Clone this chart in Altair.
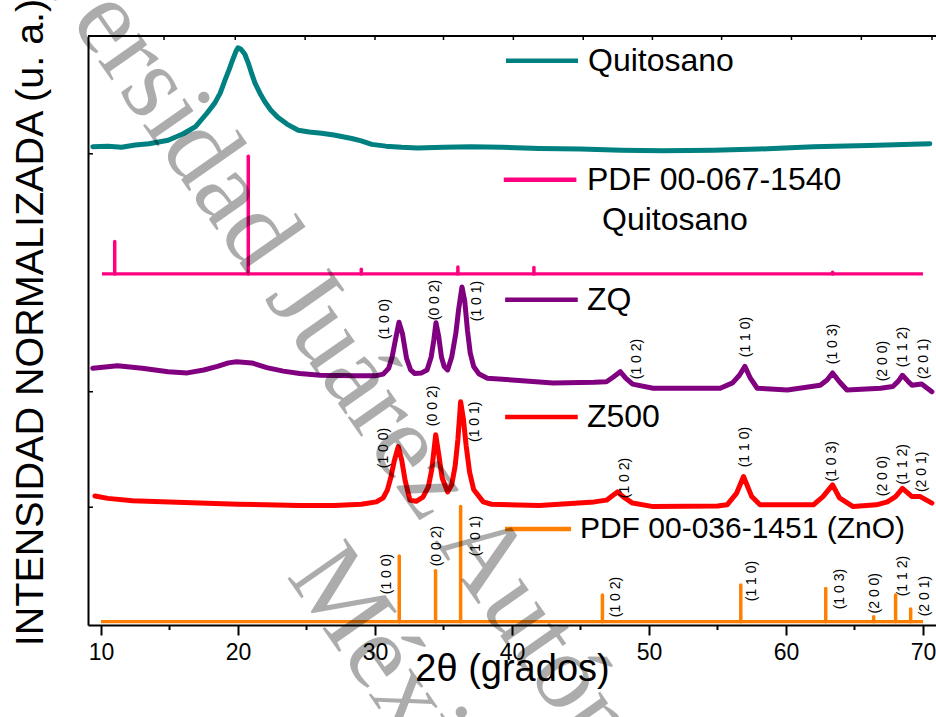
import altair as alt
import pandas as pd

# ---------------- data ----------------
SERIES = ["Quitosano", "PDF 00-067-1540", "ZQ", "Z500", "PDF 00-036-1451 (ZnO)"]
COLORS = ["#008080", "#FF0080", "#800080", "#FF0000", "#FF8000"]

QT_X = [9.4, 10.5, 11.5, 12.5, 13.5, 14.9, 16.0, 16.9, 17.7, 18.3, 18.7, 19.05, 19.35, 19.6, 19.85, 20.0,
        20.2, 20.5, 20.75, 21.0, 21.24, 21.6, 21.97, 22.4, 22.9, 23.6, 24.4, 25.2, 26.1, 27.0, 28.3, 29.0,
        29.76, 30.8, 31.95, 33.1, 35.0, 37.0, 39.3, 42.0, 45.0, 48.0, 51.0, 54.7, 58.0, 62.0, 66.0, 70.5]
QT_Y = [81.2, 81.3, 81.1, 81.5, 81.7, 82.3, 83.4, 84.6, 86.8, 88.6, 90.3, 92.5, 94.3, 95.9, 97.4, 98.0,
        97.8, 96.9, 95.4, 93.6, 92.0, 90.3, 88.8, 87.4, 86.2, 85.0, 84.0, 83.7, 83.5, 83.2, 82.6, 82.2,
        81.6, 81.3, 81.1, 81.0, 81.1, 81.2, 81.1, 80.9, 80.8, 80.6, 80.5, 80.6, 80.8, 81.2, 81.4, 81.7]

ZQ_X = [9.4, 11.2, 13.0, 14.9, 16.3, 17.5, 18.5, 19.3, 19.9, 21.0, 22.1, 23.3, 24.5, 26.0, 28.5, 30.0,
        30.6, 31.0, 31.25, 31.5, 31.75, 32.0, 32.3, 32.6, 32.9, 33.4, 33.8, 34.1, 34.3, 34.45, 34.65, 34.85,
        35.05, 35.3, 35.6, 35.9, 36.1, 36.35, 36.55, 36.75, 36.95, 37.2, 37.6, 38.2, 40.0, 43.0, 46.0, 46.9,
        47.4, 47.9, 48.3, 48.8, 50.3, 53.0, 55.2, 56.1, 56.6, 57.0, 57.4, 57.9, 60.1, 62.5, 63.0, 63.4,
        63.9, 64.45, 66.9, 67.8, 68.2, 68.5, 68.9, 69.2, 69.9, 70.65]
ZQ_Y = [43.6, 44.0, 43.6, 43.0, 42.8, 43.3, 43.9, 44.5, 44.7, 44.5, 43.7, 43.1, 42.7, 42.4, 42.3, 42.3,
        42.6, 43.6, 45.5, 48.5, 51.4, 49.5, 45.3, 43.3, 42.7, 42.8, 43.3, 45.5, 48.5, 51.3, 49.0, 45.5,
        43.9, 43.3, 45.5, 49.5, 53.5, 57.4, 55.0, 50.0, 46.2, 43.9, 42.6, 41.9, 41.6, 41.1, 41.2, 41.3,
        42.1, 43.0, 41.9, 40.9, 40.2, 40.2, 40.2, 41.1, 42.4, 43.9, 41.9, 40.2, 39.9, 40.7, 41.6, 42.8,
        41.3, 39.9, 40.2, 40.5, 41.4, 42.4, 41.4, 40.7, 40.9, 39.6]

Z5_X = [9.56, 10.5, 12.3, 15.0, 17.2, 20.0, 24.5, 27.0, 29.0, 30.1, 30.6, 30.9, 31.15, 31.4, 31.7, 31.95,
        32.2, 32.55, 33.0, 33.5, 33.9, 34.15, 34.43, 34.65, 34.9, 35.3, 35.6, 35.85, 36.05, 36.25, 36.45,
        36.65, 36.9, 37.2, 37.9, 38.5, 42.0, 46.0, 46.9, 47.3, 47.7, 48.1, 48.8, 50.3, 55.0, 55.7, 56.4,
        56.9, 57.5, 58.1, 62.0, 62.7, 63.4, 63.9, 64.9, 66.6, 67.4, 68.0, 68.5, 69.2, 69.8, 70.65]
Z5_Y = [21.9, 21.5, 21.1, 20.9, 20.7, 20.5, 20.3, 20.3, 20.5, 20.9, 21.6, 22.9, 25.0, 27.8, 30.3, 28.0,
        24.5, 21.2, 21.0, 21.7, 23.5, 26.5, 32.3, 29.0, 25.0, 22.6, 23.8, 27.0, 31.5, 37.9, 35.0,
        30.5, 26.0, 23.0, 20.9, 20.5, 20.3, 20.9, 21.2, 21.9, 22.6, 21.8, 20.7, 20.1, 20.2, 20.4, 22.4,
        25.2, 21.8, 20.4, 20.4, 21.8, 23.8, 21.6, 20.1, 20.4, 20.9, 21.8, 23.2, 21.8, 21.8, 20.7]

# reference patterns (stick positions and heights)
PDFQ_X = [11.0, 20.75, 29.0, 36.05, 41.6, 63.4]
PDFQ_TOP = [65.1, 79.6, 60.4, 60.8, 60.7, 59.9]
PDFQ_BASE = 59.6
PDFQ_RANGE = [10.07, 70.0]

ZNO_X = [31.77, 34.42, 36.25, 46.6, 56.7, 62.9, 66.4, 68.0, 69.1]
ZNO_TOP = [11.7, 9.2, 20.1, 5.1, 6.8, 6.2, 1.4, 5.1, 2.7]
ZNO_BASE = 0.56
ZNO_RANGE = [10.0, 70.0]

HKL = ["(1 0 0)", "(0 0 2)", "(1 0 1)", "(1 0 2)", "(1 1 0)", "(1 0 3)", "(2 0 0)", "(1 1 2)", "(2 0 1)"]
ZQ_LAB_X = [30.73, 34.38, 37.45, 49.16, 57.08, 63.43, 67.08, 68.54, 70.07]
ZQ_LAB_Y = [51.95, 55.18, 55.0, 45.16, 48.9, 47.7, 44.8, 47.2, 45.2]
Z5_LAB_X = [30.66, 34.23, 37.3, 48.25, 57.0, 63.36, 67.08, 68.54, 69.93]
Z5_LAB_Y = [30.05, 37.2, 34.5, 24.96, 30.2, 27.8, 25.3, 27.3, 26.0]
ZNO_LAB_X = [30.88, 34.53, 37.37, 47.6, 57.5, 63.94, 66.5, 68.54, 70.15]
ZNO_LAB_Y = [8.66, 13.4, 15.1, 4.75, 7.47, 6.1, 5.4, 8.3, 4.9]

# legend (in data units)
LEG_Y = [95.8, 75.6, 55.2, 35.3, 16.3]
LEG_X1 = [39.56, 39.4, 39.5, 39.5, 39.49]
LEG_X2 = [44.82, 44.7, 44.8, 44.8, 44.31]
LEG_TX = [45.55, 45.47, 45.47, 45.47, 44.96]
LEG_SIZE = [32, 32, 32, 32, 30]
LEG_EXTRA = ["Quitosano"]
LEG_EXTRA_X = [46.57]
LEG_EXTRA_Y = [68.8]

X_TICKS = [10, 20, 30, 40, 50, 60, 70]
X_MINOR = [15, 25, 35, 45, 55, 65]
TOP_TICKS = [14.6, 19.8, 24.9, 30.0, 35.0, 40.1, 45.2, 50.25, 55.3, 60.4, 65.5, 70.66]
LEFT_TICKS = [20.0, 39.6, 80.0]

WATERMARK = ["Universidad Juárez Autónoma de Tabasco", "México"]
WM_X = [38.54, 32.3]
WM_Y = [9.68, -11.5]

# ---------------- build tables ----------------
W, H = 848, 589
FONT = "Liberation Sans"
xs = alt.Scale(domain=[9.05, 70.95], nice=False, zero=False)
ys = alt.Scale(domain=[0, 100], nice=False, zero=False)
cs = alt.Scale(domain=SERIES, range=COLORS)

curves = pd.concat([
    pd.DataFrame({"theta": QT_X, "v": QT_Y, "series": SERIES[0]}),
    pd.DataFrame({"theta": ZQ_X, "v": ZQ_Y, "series": SERIES[2]}),
    pd.DataFrame({"theta": Z5_X, "v": Z5_Y, "series": SERIES[3]}),
], ignore_index=True)

sticks = pd.concat([
    pd.DataFrame({"theta": PDFQ_X, "v": PDFQ_BASE, "top": PDFQ_TOP, "series": SERIES[1]}),
    pd.DataFrame({"theta": ZNO_X, "v": ZNO_BASE, "top": ZNO_TOP, "series": SERIES[4]}),
], ignore_index=True)

bases = pd.DataFrame({
    "theta": [PDFQ_RANGE[0], ZNO_RANGE[0]],
    "theta2": [PDFQ_RANGE[1], ZNO_RANGE[1]],
    "v": [PDFQ_BASE, ZNO_BASE],
    "series": [SERIES[1], SERIES[4]],
})

labels = pd.concat([
    pd.DataFrame({"theta": ZQ_LAB_X, "v": ZQ_LAB_Y, "label": HKL}),
    pd.DataFrame({"theta": Z5_LAB_X, "v": Z5_LAB_Y, "label": HKL}),
    pd.DataFrame({"theta": ZNO_LAB_X, "v": ZNO_LAB_Y, "label": HKL}),
], ignore_index=True)

legend = pd.DataFrame({"series": SERIES, "v": LEG_Y, "theta": LEG_X1, "theta2": LEG_X2,
                       "tx": LEG_TX, "size": LEG_SIZE})
legend_extra = pd.DataFrame({"label": LEG_EXTRA, "theta": LEG_EXTRA_X, "v": LEG_EXTRA_Y})
wm = pd.DataFrame({"label": WATERMARK, "theta": WM_X, "v": WM_Y})

x_axis = alt.Axis(values=X_TICKS, tickSize=10, tickWidth=2, tickColor="black",
                  domainColor="black", domainWidth=2, grid=False,
                  labelFont=FONT, labelFontSize=23, labelColor="black", labelPadding=6,
                  labelFlush=False, labelOverlap=False,
                  title="2θ (grados)", titleFont=FONT, titleFontSize=38, titleFontWeight="normal",
                  titleColor="black", titleY=44, titleBaseline="middle")
y_axis = alt.Axis(labels=False, ticks=False, grid=False, domainColor="black", domainWidth=2,
                  title="INTENSIDAD NORMALIZADA (u. a.)", titleFont=FONT, titleFontSize=39.5,
                  titleFontWeight="normal", titleColor="black", titleAngle=270,
                  titleX=-46, titleY=286, titleBaseline="alphabetic", titleAlign="center")


def X(field="theta:Q"):
    return alt.X(field, scale=xs, axis=x_axis)


def Y(field="v:Q"):
    return alt.Y(field, scale=ys, axis=y_axis)


C = alt.Color("series:N", scale=cs, legend=None)

lines = alt.Chart(curves).mark_line(strokeWidth=5, strokeCap="round", strokeJoin="round").encode(
    x=X(), y=Y(), color=C, detail="series:N")

stick_layer = alt.Chart(sticks).mark_rule(strokeWidth=3.5, strokeCap="round").encode(
    x=X(), y=Y(), y2="top:Q", color=C)

base_layer = alt.Chart(bases).mark_rule(strokeWidth=3.2).encode(
    x=X(), x2="theta2:Q", y=Y(), color=C)

hkl = alt.Chart(labels).mark_text(angle=270, font=FONT, fontSize=14, align="center",
                                  baseline="middle", color="black").encode(
    x=X(), y=Y(), text="label:N")

leg_lines = alt.Chart(legend).mark_rule(strokeWidth=4.5).encode(
    x=X(), x2="theta2:Q", y=Y(), color=C)
leg_text = alt.Chart(legend).mark_text(font=FONT, align="left", baseline="middle",
                                       color="black").encode(
    x=X("tx:Q"), y=Y(), text="series:N",
    size=alt.Size("size:Q", scale=None, legend=None))
leg_text2 = alt.Chart(legend_extra).mark_text(font=FONT, fontSize=32, align="left",
                                              baseline="middle", color="black").encode(
    x=X(), y=Y(), text="label:N")

minor = alt.Chart(pd.DataFrame({"theta": X_MINOR})).mark_rule(strokeWidth=2, color="black").encode(
    x=X(), y=alt.value(H), y2=alt.value(H + 5))
top_ticks = alt.Chart(pd.DataFrame({"theta": TOP_TICKS})).mark_rule(strokeWidth=1.5, color="black").encode(
    x=X(), y=alt.value(0), y2=alt.value(4))
left_ticks = alt.Chart(pd.DataFrame({"v": LEFT_TICKS})).mark_rule(strokeWidth=1.5, color="black").encode(
    y=Y(), x=alt.value(0), x2=alt.value(5))
top_line = alt.Chart(pd.DataFrame({"a": [0]})).mark_rule(strokeWidth=2, color="black").encode(
    x=alt.value(0), x2=alt.value(W), y=alt.value(0))

watermark = alt.Chart(wm).mark_text(font="Liberation Serif", fontSize=108, angle=55, align="center",
                                    baseline="middle", color="black", opacity=0.32).encode(
    x=X(), y=Y(), text="label:N")

chart = alt.layer(
    lines, base_layer, stick_layer, hkl, leg_lines, leg_text, leg_text2,
    minor, top_ticks, left_ticks, top_line, watermark
).properties(
    width=W, height=H,
    autosize=alt.AutoSizeParams(type="none"),
    padding={"left": 88, "top": 36, "right": 0, "bottom": 92},
    background="white",
).configure_view(stroke=None)

chart.save("out.html", embed_options={"renderer": "svg", "actions": False})
